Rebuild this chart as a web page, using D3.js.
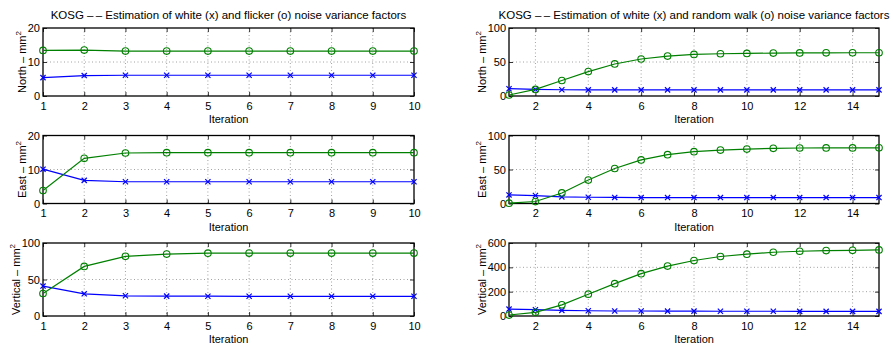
<!DOCTYPE html>
<html>
<head>
<meta charset="utf-8">
<script src="https://cdn.jsdelivr.net/npm/d3@7"></script>
<style>
  html, body { margin: 0; padding: 0; background: #fff; }
  svg { display: block; font-family: "Liberation Sans", Arial, Helvetica, sans-serif; }
  .tick text { font-size: 11px; fill: #000; }
</style>
</head>
<body>
<svg id="chart" width="893" height="344"></svg>
<script>
// Iteration counts
const itersFlicker = [1, 2, 3, 4, 5, 6, 7, 8, 9, 10];
const itersRW = [1, 2, 3, 4, 5, 6, 7, 8, 9, 10, 11, 12, 13, 14, 15];

// White (x) and flicker (o) noise variance factors, mm^2
const flickerNorthWhite = [5.4, 6.0, 6.1, 6.1, 6.1, 6.1, 6.1, 6.1, 6.1, 6.1];
const flickerNorthFlicker = [13.4, 13.5, 13.2, 13.2, 13.2, 13.2, 13.2, 13.2, 13.2, 13.2];
const flickerEastWhite = [10.1, 6.8, 6.4, 6.4, 6.4, 6.4, 6.4, 6.4, 6.4, 6.4];
const flickerEastFlicker = [3.8, 13.3, 14.85, 14.95, 14.95, 14.95, 14.95, 14.95, 14.95, 14.95];
const flickerVertWhite = [41.0, 30.4, 27.7, 27.2, 27.1, 27.0, 27.0, 27.0, 27.0, 27.0];
const flickerVertFlicker = [30.8, 67.9, 81.7, 84.8, 86.0, 86.2, 86.2, 86.2, 86.2, 86.2];

// White (x) and random walk (o) noise variance factors, mm^2
const rwNorthWhite = [10.7, 9.7, 9.2, 9.0, 9.0, 9.0, 9.0, 9.0, 9.0, 9.0, 9.0, 9.0, 9.0, 9.0, 9.0];
const rwNorthRW = [1.5, 9.7, 22.8, 35.9, 47.1, 54.4, 58.7, 61.2, 62.1, 62.6, 63.1, 63.4, 63.5, 63.6, 63.6];
const rwEastWhite = [12.6, 11.7, 9.7, 9.2, 8.9, 8.7, 8.7, 8.7, 8.7, 8.7, 8.7, 8.7, 8.7, 8.7, 8.7];
const rwEastRW = [0.5, 2.9, 15.5, 34.5, 51.5, 64.1, 71.8, 76.2, 78.6, 80.1, 81.1, 81.6, 81.8, 81.8, 81.9];
const rwVertWhite = [57, 52, 46, 43, 41, 41, 40, 40, 39, 39, 39, 38, 38, 38, 38];
const rwVertRW = [8, 30, 92, 179, 266, 348, 410, 456, 489, 508, 524, 532, 538, 540, 543];

// Axis ticks
const flickerXTicks = [1, 2, 3, 4, 5, 6, 7, 8, 9, 10];
const rwXTicks = [2, 4, 6, 8, 10, 12, 14];
const ticks20 = [0, 10, 20];
const ticks100 = [0, 50, 100];
const ticks600 = [0, 200, 400, 600];

// Text
const titleFlicker = "KOSG –\u2009– Estimation of white (x) and flicker (o) noise variance factors";
const titleRW = "KOSG –\u2009– Estimation of white (x) and random walk (o) noise variance factors";
const components = ["North", "East", "Vertical"];
const xLabel = "Iteration";

const BLUE = "#0000ff";
const GREEN = "#008000";

const svg = d3.select("#chart");

const cols = [
  { x0: 43, x1: 414, iters: itersFlicker, xTicks: flickerXTicks, xDomain: [1, 10], title: titleFlicker,
    rows: [
      { white: flickerNorthWhite, other: flickerNorthFlicker, yTicks: ticks20 },
      { white: flickerEastWhite, other: flickerEastFlicker, yTicks: ticks20 },
      { white: flickerVertWhite, other: flickerVertFlicker, yTicks: ticks100 }
    ] },
  { x0: 509, x1: 879, iters: itersRW, xTicks: rwXTicks, xDomain: [1, 15], title: titleRW,
    rows: [
      { white: rwNorthWhite, other: rwNorthRW, yTicks: ticks100 },
      { white: rwEastWhite, other: rwEastRW, yTicks: ticks100 },
      { white: rwVertWhite, other: rwVertRW, yTicks: ticks600 }
    ] }
];
const rowBoxes = [[28, 96], [135.5, 203.5], [243, 316]];

cols.forEach(col => {
  col.rows.forEach((row, ri) => {
    const [y0, y1] = rowBoxes[ri];
    const x = d3.scaleLinear().domain(col.xDomain).range([col.x0, col.x1]);
    const yT = row.yTicks;
    const y = d3.scaleLinear().domain([yT[0], yT[yT.length - 1]]).range([y1, y0]);
    const g = svg.append("g");

    // dotted grid
    g.selectAll(".gx").data(col.xTicks.filter(t => t > col.xDomain[0] && t < col.xDomain[1]))
      .enter().append("line")
      .attr("x1", d => x(d)).attr("x2", d => x(d)).attr("y1", y0).attr("y2", y1)
      .attr("stroke", "#8a8a8a").attr("stroke-width", 0.8).attr("stroke-dasharray", "1,2.5");
    g.selectAll(".gy").data(yT.slice(1, -1)).enter().append("line")
      .attr("x1", col.x0).attr("x2", col.x1).attr("y1", d => y(d)).attr("y2", d => y(d))
      .attr("stroke", "#8a8a8a").attr("stroke-width", 0.8).attr("stroke-dasharray", "1,2.5");

    // axes with inward ticks on all four sides
    const tl = 4;
    g.append("g").attr("class", "ax").attr("transform", `translate(0,${y1})`)
      .call(d3.axisBottom(x).tickValues(col.xTicks).tickSize(-tl).tickPadding(6).tickFormat(d3.format("d")));
    g.append("g").attr("transform", `translate(0,${y0})`)
      .call(d3.axisTop(x).tickValues(col.xTicks).tickSize(-tl).tickFormat(""));
    const yAxisG = g.append("g").attr("class", "ax").attr("transform", `translate(${col.x0},0)`)
      .call(d3.axisLeft(y).tickValues(yT).tickSize(-tl).tickPadding(3).tickFormat(d3.format("d")));
    g.append("g").attr("transform", `translate(${col.x1},0)`)
      .call(d3.axisRight(y).tickValues(yT).tickSize(-tl).tickFormat(""));
    g.selectAll(".domain").remove();
    g.selectAll(".tick line").attr("stroke", "#000").attr("stroke-width", 0.8);
    g.selectAll(".ax .tick text").attr("font-size", 11);

    // box
    g.append("rect").attr("x", col.x0).attr("y", y0)
      .attr("width", col.x1 - col.x0).attr("height", y1 - y0)
      .attr("fill", "none").attr("stroke", "#000").attr("stroke-width", 1.3);

    const line = d3.line().x((d, i) => x(col.iters[i])).y(d => y(d));

    // white noise series (x markers)
    g.append("path").attr("d", line(row.white)).attr("fill", "none")
      .attr("stroke", BLUE).attr("stroke-width", 1.2);
    const s = 2.6;
    g.selectAll(".mx").data(row.white).enter().append("path")
      .attr("d", (d, i) => {
        const cx = x(col.iters[i]), cy = y(d);
        return `M${cx - s},${cy - s}L${cx + s},${cy + s}M${cx - s},${cy + s}L${cx + s},${cy - s}`;
      })
      .attr("stroke", BLUE).attr("stroke-width", 1.2).attr("fill", "none");

    // flicker / random walk series (o markers)
    g.append("path").attr("d", line(row.other)).attr("fill", "none")
      .attr("stroke", GREEN).attr("stroke-width", 1.2);
    g.selectAll(".mo").data(row.other).enter().append("circle")
      .attr("cx", (d, i) => x(col.iters[i])).attr("cy", d => y(d)).attr("r", 3.3)
      .attr("fill", "none").attr("stroke", GREEN).attr("stroke-width", 1.1);

    // x label
    g.append("text").attr("x", (col.x0 + col.x1) / 2).attr("y", y1 + 27)
      .attr("text-anchor", "middle").attr("font-size", 11).text(xLabel);

    // y label with superscript, placed just left of the tick labels
    let minX = col.x0;
    yAxisG.selectAll(".tick text").each(function () {
      const b = this.getBBox();
      minX = Math.min(minX, col.x0 + b.x);
    });
    const yl = g.append("text")
      .attr("transform", `translate(${minX - 2},${(y0 + y1) / 2}) rotate(-90)`)
      .attr("text-anchor", "middle").attr("font-size", 11);
    yl.append("tspan").text(components[ri] + " – mm");
    yl.append("tspan").attr("font-size", 8).attr("dy", -5).text("2");

    if (ri === 0) {
      g.append("text").attr("x", (col.x0 + col.x1) / 2).attr("y", 19)
        .attr("text-anchor", "middle").attr("font-size", 11.5).text(col.title);
    }
  });
});
</script>
</body>
</html>
